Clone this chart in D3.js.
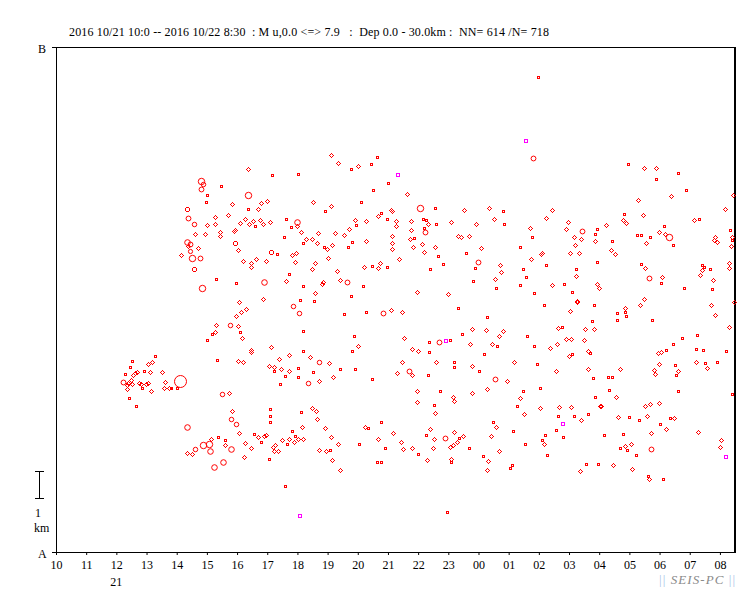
<!DOCTYPE html>
<html><head><meta charset="utf-8">
<script src="https://cdn.jsdelivr.net/npm/d3@7"></script>
<style>
body{margin:0;background:#fff}
text{font-family:"Liberation Serif","Times New Roman",serif;}
</style>
</head><body>
<svg id="chart" width="751" height="593"></svg>
<script>
// ---------------- data ----------------
const titleText = "2016 10/21 10:0 -- 2016 10/22 8:30  : M u,0.0 <=> 7.9   :  Dep 0.0 - 30.0km :  NN= 614 /N= 718";
const startTime = new Date(2016, 9, 21, 10, 0);
const endTime = new Date(2016, 9, 22, 8, 30);
const sectionLengthKm = 18.7;          // distance A -> B
const endLabels = ["A", "B"];
const dayLabel = {time: new Date(2016, 9, 21, 12, 0), text: "21"};
const scaleBarKm = 1;
const creditText = ["|| ", "SEIS-PC", " ||"];

// events: [minutes after 10/21 10:00, distance from A (km), magnitude class]
const clusterEvents = [
 [151,7.06,0.5],[197,7.25,0.5],[182,6.95],[191,7.03],[147,6.84,0.5],[162,6.68],[157,6.62],[154,6.54],[174,6.71,0.5],[187,6.66],
 [211,6.66],[137,6.58,0.5],[133,6.29,1.6],[143,6.27],[150,6.36],[141,6.19],[152,6.21],[166,6.27],[169,6.22],[178,6.21],
 [183,6.25],[217,6.29],[142,6.03],[171,6.06,0.5],[189,5.95],[215,6.06],[225,6.06],[241,6.06,0.5],[247,6.34,3],[145,5.69,0.5],[160,5.42,0.5]
];
const eventsAfternoon = [
 [382,14.17],[430,13.97,0.5],[482,13.99,0.5],[288,13.73,2],[292,13.63,1.5],[329,13.57,0.5],[288,13.44,1.6],[382,13.21,2],[300,13.21,0.5],[298,12.95,0.5],
 [349,12.88],[408,12.94],[420,13.0],[510,12.97],[382,12.71,0.5],[402,12.71],[261,12.69,1.3],[262,12.36,1.6],[317,12.40],[341,12.47],
 [375,12.32],[392,12.25],[406,12.29],[426,12.21],[458,12.34,0.5],[480,12.23,1.8],[366,12.17],[383,12.14],[396,12.09,0.5],[412,12.14],
 [274,12.14,1.5],[301,12.10],[317,12.14],[468,12.05,0.5],[480,12.06],[327,11.85],[327,11.69],[356,11.94],[354,11.90],[277,11.77],
 [297,11.77],[488,11.84],[521,11.80],[453,11.66,0.5],[498,11.59],[508,11.58],[260,11.49,1.8],[266,11.42,1.6],[263,11.34],[355,11.43,1.3],
 [492,11.43,0.5],[519,11.43],[283,11.25],[266,11.15,1.4],[362,11.17],[427,11.10,1.3],[440,11.05,0.5],[478,11.09],[470,10.99],[249,10.99],
 [271,10.88,2],[286,10.89,1.6],[398,10.84],[418,10.79],[372,10.77],[388,10.69],[476,10.75],[515,10.71],[388,10.54],[274,10.48,1.3],
 [508,10.47],[463,10.31,0.5],[318,10.11,0.5],[458,10.03],[414,10.0,1.8],[358,9.97,0.5],[291,9.78,2],[492,9.84,0.5],[514,9.58],[412,9.36],
 [485,9.32,0.5],[512,9.31,0.5],[364,9.25],[472,9.12,1.5],[378,9.0],[368,8.88],[358,8.73],[483,8.86,1.5],[318,8.40],[345,8.42,1.5],
 [361,8.36],[366,8.16,0.5],[317,8.14],[311,8.09,0.5],[492,8.19,0.5],[370,7.91],[300,7.85,0.5],[388,7.48],[388,7.41],[428,7.58],
 [492,7.43,0.5],[464,7.29],[506,7.21],[444,7.14],[321,7.10,0.5],[362,7.06],[372,7.04],[522,7.05,1.5],[424,6.88],[434,6.85],
 [434,6.71,0.5],[448,6.79],[464,6.69],[481,6.83,0.5],[510,6.68,0.5],[455,6.51,0.5],[482,6.47,0.5],[502,6.25,1.5],[522,6.33],[445,6.21,0.5],
 [228,6.09,0.5],[331,5.84,1.5],[343,5.88],[426,5.30,0.5],[508,5.32],[350,5.21],[425,5.03,0.5],[425,4.80,0.5],[347,4.94,1.5],[358,4.74,1.5],
 [487,5.19,0.5],[517,5.21],[519,4.91],[260,4.64,1.8],[364,4.40],[394,4.36,0.5],[417,4.34],[414,4.30],[402,4.25],[469,4.47,0.5],
 [490,4.62],[323,4.26,0.5],[309,4.20],[337,4.14,0.5],[475,4.31,0.5],[492,4.20],[482,4.17],[464,4.17],[450,4.14],[407,4.09,0.5],
 [473,4.07],[460,4.01,0.5],[293,3.97,2],[304,3.99,2],[376,4.03],[337,3.95],[436,3.95],[431,3.90],[388,3.86],[277,3.83,1.5],
 [348,3.83,1.8],[306,3.75,1.8],[434,3.73],[442,3.73],[523,3.78],[261,3.67],[270,3.63],[374,3.51],[423,3.43,0.5],[332,3.34,1.8],
 [314,3.16,1.8],[455,2.44,0.5]
];
const eventsEvening = [
 [547,14.69],[639,14.64,0.5],[561,14.40],[627,14.37,0.5],[601,14.29],[587,14.17,0.5],[661,13.68,0.5],[630,13.40,0.5],[698,13.25],[607,12.95,0.5],
 [547,12.80],[535,12.64,0.5],[724,12.75,2],[753,12.73,0.5],[666,12.68],[669,12.64],[646,12.54,0.5],[641,12.43],[595,12.29],[617,12.25],
 [659,12.32,0.5],[675,12.25],[706,12.25],[730,12.32,0.5],[736,12.30,0.5],[786,12.23],[596,12.10,0.5],[675,12.06],[740,12.14],[756,12.16,0.5],
 [732,12.01,0.5],[582,11.95],[706,11.91],[734,11.84,1.6],[555,11.80],[573,11.73],[669,11.69],[712,11.64,0.5],[704,11.58],[799,11.69],
 [616,11.52],[588,11.48,0.5],[669,11.43],[728,11.40],[549,11.36],[533,11.31,0.5],[581,11.29,0.5],[539,11.21],[754,11.29],[669,11.21],
 [710,11.29],[732,11.10],[759,10.95,0.5],[541,10.88],[682,10.84],[645,10.69],[769,10.66,0.5],[613,10.54],[628,10.58,0.5],[641,10.51],
 [658,10.54,0.5],[744,10.49,0.5],[559,10.40],[565,10.06],[578,9.99,1.6],[531,10.0],[529,9.94],[611,9.86,0.5],[718,9.62],[780,9.54],
 [586,9.47,0.5],[799,9.03,0.5],[573,8.80,0.5],[616,8.88,0.5],[651,8.85,1.6],[667,8.95],[688,8.88],[593,8.01,0.5],[692,7.91],[742,7.79,0.5],
 [762,7.79,1.6],[784,7.86,0.5],[601,7.62],[708,7.51],[720,7.43],[742,7.40,0.5],[588,7.43,0.5],[543,6.99],[688,7.03],[755,7.03],
 [791,7.05,0.5],[792,6.86,0.5],[564,6.79,0.5],[594,6.77,0.5],[702,6.71,1.6],[677,6.62],[708,6.54],[739,6.54,0.5],[551,6.47],[629,6.42,0.5],
 [764,5.97,0.5],[718,5.95],[790,5.73],[792,5.58],[718,5.54],[751,5.43,0.5],[754,5.14],[646,4.80,0.5],[535,4.58],[615,4.62],
 [620,4.60,0.5],[744,4.54],[791,4.43],[671,4.42],[736,4.34,0.5],[547,4.25],[641,4.17],[774,4.22,1.6],[752,4.17],[802,4.21,0.5],
 [686,4.06],[797,4.06],[561,3.99],[603,3.99,0.5],[783,3.90],[789,3.96],[655,3.86,0.5],[708,3.84],[690,3.80],[750,3.84],
 [537,3.73],[545,3.77,0.5],[720,3.62,0.5],[786,3.44],[786,3.32,0.5],[548,3.40],[738,3.40],[638,3.33,0.5],[647,3.32,0.5],[565,3.03],
 [777,1.48,0.5]
];
const eventsNight = [
 [948,14.58,1.6],[812,12.66],[861,12.73],[889,12.64,0.5],[987,12.66],[871,12.32],[891,12.16,0.5],[975,12.36],[1018,12.21],[836,12.14],
 [943,11.99],[1014,11.95],[1046,11.88,1.6],[1075,11.96,0.5],[805,11.66],[822,11.69],[946,11.66,0.5],[1030,11.66],[1044,11.58],[1072,11.77,0.5],
 [1072,11.51],[844,11.25],[922,11.29,0.5],[1032,11.36],[816,11.06,0.5],[964,11.03],[967,11.06],[1022,11.06],[1040,11.09],[945,10.84],
 [839,10.73,1.6],[883,10.62],[1075,10.73,0.5],[834,10.53,0.5],[929,10.49,0.5],[975,10.64,0.5],[1034,10.49,0.5],[885,10.36],[934,10.17,0.5],[1034,10.21],
 [873,10.10],[830,10.05,0.5],[922,9.88,0.5],[987,9.88],[1010,9.94,0.5],[1075,9.91],[875,9.79,0.5],[1079,9.77],[1026,9.64,0.5],[950,9.58,0.5],
 [1036,9.31],[1036,9.25],[970,9.14,0.5],[1069,9.14,0.5],[1022,8.91],[857,8.71,0.5],[1066,8.57,0.5],[828,8.25],[855,8.21],[889,8.17],
 [999,8.29],[1007,8.33,0.5],[1052,8.25],[1070,8.25],[807,8.06,0.5],[881,8.01],[936,7.99,0.5],[824,7.69],[867,7.69],[877,7.64,0.5],
 [1014,7.88],[1024,7.88],[1050,7.84],[951,7.64,0.5],[997,7.69],[983,7.54],[1058,7.43],[1062,7.36,0.5],[1026,7.34,0.5],[1020,7.25],
 [851,7.34,0.5],[911,7.03],[957,6.97,0.5],[828,6.90],[841,6.69,0.5],[995,6.69],[1058,6.77],[873,6.42,1.6],[897,6.32],[1068,6.43,0.5],
 [857,6.03],[928,5.95,0.5],[962,6.06,0.5],[828,5.88],[923,5.69],[1072,5.73,0.5],[916,5.40,0.5],[963,5.32],[1001,5.36],[1024,5.36],
 [1081,5.40],[931,5.10],[999,5.04,0.5],[1030,5.04,0.5],[1058,5.11,0.5],[1044,4.88],[869,4.81,0.5],[875,4.62],[995,4.52,0.5],[909,4.47,0.5],
 [810,4.29],[865,4.29],[973,4.34,0.5],[1009,4.25,0.5],[967,4.16,0.5],[822,3.86,0.5],[932,3.99,0.5],[971,4.01],[881,3.73],[849,3.57,0.5],
 [977,3.60,0.5],[859,3.36],[907,3.21,0.5],[903,3.10,0.5],[1054,3.25,0.5],[1077,3.25,0.5],[857,3.03],[1042,2.99],[958,17.59,0.5]
];
const eventsMorning = [
 [1138,14.38,0.5],[1170,14.21],[1193,14.21],[1193,13.83,0.5],[1237,14.03,0.5],[1252,13.40,0.5],[1158,13.03],[1223,13.17],[1346,13.21],[1331,12.69],
 [1130,12.53,0.5],[1168,12.47],[1128,12.29],[1134,12.17],[1094,12.10],[1209,12.09,0.5],[1269,12.29],[1278,12.32,0.5],[1156,11.75,0.5],[1164,11.75,0.5],
 [1181,11.68,0.5],[1199,11.84],[1211,11.79],[1218,11.66,2],[1341,11.94,0.5],[1344,11.68],[1344,11.57,0.5],[1105,11.51,0.5],[1174,11.43],[1227,11.38,0.5],
 [1311,11.66],[1309,11.54],[1315,11.47],[1342,11.32],[1104,11.17],[1112,11.03],[1164,10.68,0.5],[1172,10.51],[1284,10.62,0.5],[1289,10.54,0.5],
 [1301,10.49,0.5],[1285,10.43],[1339,10.69],[1339,10.51],[1281,10.25],[1179,10.16,1.6],[1205,10.17],[1203,9.97,0.5],[1307,10.06],[1249,9.79,0.5],
 [1305,9.74,0.5],[1170,9.36],[1162,9.14],[1303,9.14],[1348,9.25],[1132,9.03],[1311,8.77],[1115,8.84,0.5],[1131,8.88,0.5],[1133,8.73,0.5],
 [1116,8.60,0.5],[1185,8.60,0.5],[1339,8.32],[1275,8.05,0.5],[1244,7.91,0.5],[1226,7.69,0.5],[1212,7.47,0.5],[1197,7.36],[1203,7.40],[1273,7.51,0.5],
 [1286,7.47,0.5],[1333,7.46,0.5],[1199,6.95],[1230,6.91,0.5],[1273,7.03],[1291,7.01,0.5],[1315,7.03,0.5],[1295,6.80],[1189,6.73],[1191,6.58],
 [1237,6.69],[1233,6.56,0.5],[1122,6.77],[1097,6.47,0.5],[1105,6.47,0.5],[1099,6.0,0.5],[1236,5.95,0.5],[1114,5.73],[1344,5.86,0.5],[1083,5.40],
 [1172,5.40],[1181,5.47],[1199,5.51],[1118,4.99],[1140,4.99,0.5],[1160,4.90,0.5],[1175,5.03],[1221,4.95,0.5],[1229,4.95],[1201,4.75,0.5],
 [1213,4.54],[1277,4.43],[1089,4.34,0.5],[1127,4.36,0.5],[1183,4.40],[1144,3.99],[1131,3.91],[1122,3.86,0.5],[1136,3.77,0.5],[1183,3.83,1.6],
 [1323,4.14],[1321,3.88],[1154,3.60,0.5],[1108,3.21],[1146,3.06],[1178,2.83,0.5],[1179,2.70],[1207,2.71,0.5]
];
// events drawn in magenta
const magentaEvents = [
 [680,13.97],[776,7.83],[935,15.21],[1009,4.73],[1333,3.53],[485,1.33]
];

// ---------------- chart ----------------
const svg = d3.select("#chart");
const plotLeft = 56, plotRight = 735, plotTop = 47, plotBottom = 552;

const toEvent = ([m, d, mag = 1]) => ({time: d3.timeMinute.offset(startTime, m), dist: d, mag});
const redEvents = [].concat(clusterEvents, eventsAfternoon, eventsEvening, eventsNight, eventsMorning).map(toEvent);
const pinkEvents = magentaEvents.map(toEvent);

const x = d3.scaleTime().domain([startTime, endTime]).range([plotLeft, plotRight]);
const y = d3.scaleLinear().domain([0, sectionLengthKm]).range([plotBottom, plotTop]);
const r = d3.scalePow().exponent(2).domain([0, 3]).range([1, 6]);

// title
svg.append("text").attr("x", 69).attr("y", 36).attr("font-size", 12)
  .attr("textLength", 480).attr("lengthAdjust", "spacing")
  .style("white-space", "pre").text(titleText);

// frame
svg.append("rect").attr("x", plotLeft + 0.5).attr("y", plotTop + 0.5)
  .attr("width", plotRight - plotLeft - 1).attr("height", plotBottom - plotTop)
  .attr("fill", "none").attr("stroke", "#000").attr("shape-rendering", "crispEdges");
svg.append("line").attr("x1", plotRight).attr("x2", plotRight).attr("y1", plotTop).attr("y2", plotBottom + 1)
  .attr("stroke", "#000").attr("stroke-width", 2).attr("shape-rendering", "crispEdges");

// end ticks and A / B labels
[[0, endLabels[0]], [sectionLengthKm, endLabels[1]]].forEach(([d, lab]) => {
  const yy = Math.round(y(d)) + 0.5;
  svg.append("line").attr("x1", plotLeft - 4).attr("x2", plotLeft).attr("y1", yy).attr("y2", yy)
    .attr("stroke", "#000").attr("shape-rendering", "crispEdges");
  svg.append("text").attr("x", 38).attr("y", yy + 5).attr("font-size", 12).text(lab);
});

// x axis
const xAxis = d3.axisBottom(x).ticks(d3.timeHour.every(1)).tickFormat(d3.timeFormat("%H"))
  .tickSize(3).tickPadding(5);
const gx = svg.append("g").attr("transform", `translate(0,${plotBottom})`).call(xAxis);
gx.select(".domain").remove();
gx.selectAll("text").attr("font-size", 12).attr("font-family", "Liberation Serif, serif").attr("fill", "#000");
gx.selectAll("line").attr("stroke", "#000");
svg.append("text").attr("x", x(dayLabel.time)).attr("y", 586).attr("text-anchor", "middle")
  .attr("font-size", 12).text(dayLabel.text);

// scale bar (1 km)
const sbTop = Math.round(y(3)) + 0.5, sbBot = Math.round(y(3 - scaleBarKm)) + 0.5;
const sb = svg.append("g").attr("stroke", "#000").attr("shape-rendering", "crispEdges");
sb.append("line").attr("x1", 39.5).attr("x2", 39.5).attr("y1", sbTop).attr("y2", sbBot);
sb.append("line").attr("x1", 35).attr("x2", 44).attr("y1", sbTop).attr("y2", sbTop);
sb.append("line").attr("x1", 35).attr("x2", 44).attr("y1", sbBot).attr("y2", sbBot);
svg.append("text").attr("x", 35).attr("y", 517).attr("font-size", 12).text(String(scaleBarKm));
svg.append("text").attr("x", 34).attr("y", 532).attr("font-size", 12).text("km");

// events
const plot = svg.append("g");
plot.selectAll("circle.ev").data(redEvents).join("circle").attr("class", "ev")
  .attr("cx", d => Math.round(x(d.time)) + 0.5)
  .attr("cy", d => Math.round(y(d.dist)) + 0.5)
  .attr("r", d => r(d.mag))
  .attr("fill", "none").attr("stroke", "#ff0000").attr("stroke-width", 1)
  .attr("shape-rendering", d => d.mag <= 1.3 ? "crispEdges" : "auto");
plot.selectAll("rect.pk").data(pinkEvents).join("rect").attr("class", "pk")
  .attr("x", d => Math.round(x(d.time)) - 1.5)
  .attr("y", d => Math.round(y(d.dist)) - 1.5)
  .attr("width", 3).attr("height", 3)
  .attr("fill", "none").attr("stroke", "#ff00ff").attr("shape-rendering", "crispEdges");

// credit
const cr = svg.append("text").attr("x", 659).attr("y", 584).attr("font-size", 13)
  .attr("textLength", 76).attr("lengthAdjust", "spacing").style("white-space", "pre");
cr.append("tspan").attr("fill", "#a8c4e8").text(creditText[0]);
cr.append("tspan").attr("fill", "#8a8a8a").attr("font-style", "italic").text(creditText[1]);
cr.append("tspan").attr("fill", "#a8c4e8").text(creditText[2]);
</script>
</body></html>
